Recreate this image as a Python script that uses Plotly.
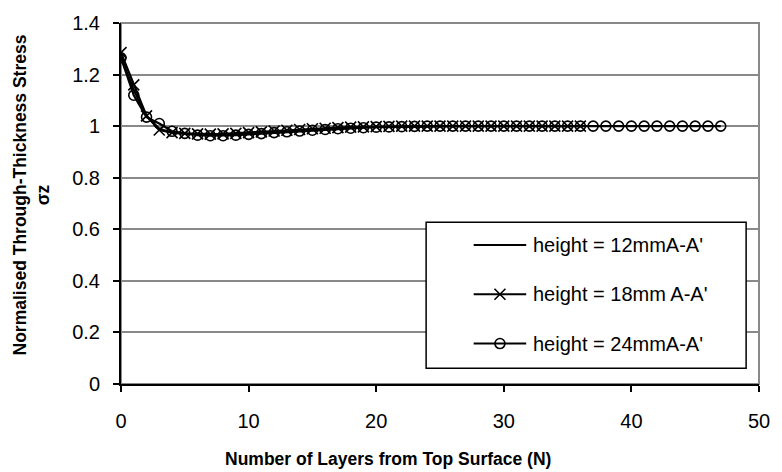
import plotly.graph_objects as go

# ---- data ----
n_12 = list(range(0, 25))
s_12 = [1.27, 1.14, 1.04, 0.99, 0.975, 0.970, 0.968, 0.967, 0.968, 0.970, 0.972, 0.975,
        0.978, 0.981, 0.984, 0.987, 0.990, 0.992, 0.994, 0.996, 0.997, 0.998, 0.999, 1.0, 1.0]

n_18 = list(range(0, 37))
s_18 = [1.285, 1.16, 1.04, 0.985, 0.975, 0.972, 0.970, 0.969, 0.970, 0.972, 0.975, 0.978,
        0.981, 0.984, 0.987, 0.990, 0.992, 0.994, 0.996, 0.997, 0.998, 0.999, 1.0, 1.0,
        1.0, 1.0, 1.0, 1.0, 1.0, 1.0, 1.0, 1.0, 1.0, 1.0, 1.0, 1.0, 1.0]

n_24 = list(range(0, 48))
s_24 = [1.265, 1.12, 1.035, 1.01, 0.98, 0.972, 0.965, 0.963, 0.963, 0.965, 0.968, 0.971,
        0.975, 0.978, 0.981, 0.984, 0.987, 0.990, 0.992, 0.994, 0.996, 0.997, 0.998, 0.999,
        1.0, 1.0, 1.0, 1.0, 1.0, 1.0, 1.0, 1.0, 1.0, 1.0, 1.0, 1.0, 1.0, 1.0, 1.0, 1.0,
        1.0, 1.0, 1.0, 1.0, 1.0, 1.0, 1.0, 1.0]

series_names = ["height = 12mmA-A'", "height = 18mm A-A'", "height = 24mmA-A'"]
y_ticks = [0, 0.2, 0.4, 0.6, 0.8, 1.0, 1.2, 1.4]
y_tick_text = ["0", "0.2", "0.4", "0.6", "0.8", "1", "1.2", "1.4"]
x_ticks = [0, 10, 20, 30, 40, 50]
x_title = "Number of Layers from Top Surface (N)"
y_title = "Normalised Through-Thickness Stress<br>σz"

FONT = "Liberation Sans, Arial, sans-serif"
BLACK = "#000000"
GRID = "#898989"
TICK_SIZE = 20
TITLE_SIZE = 17.5
LEG_SIZE = 20

X_MAX, Y_MAX = 50, 1.4

# plot area in pixels
L, R, T, B = 121, 765, 18, 384
W, H = 782, 472


def px(xp):
    return (xp - L) / (R - L)


def py(yp):
    return (B - yp) / (B - T)


fig = go.Figure()

fig.add_trace(go.Scatter(x=n_12, y=s_12, mode="lines", name=series_names[0],
                         line=dict(color=BLACK, width=2.2), showlegend=False))
fig.add_trace(go.Scatter(x=n_18, y=s_18, mode="lines+markers", name=series_names[1],
                         line=dict(color=BLACK, width=2.2),
                         marker=dict(symbol="x-thin-open", size=11, color=BLACK,
                                     line=dict(color=BLACK, width=1.6)),
                         showlegend=False))
fig.add_trace(go.Scatter(x=n_24, y=s_24, mode="lines+markers", name=series_names[2],
                         line=dict(color=BLACK, width=2.2),
                         marker=dict(symbol="circle-open", size=10, color=BLACK,
                                     line=dict(color=BLACK, width=1.6)),
                         showlegend=False))

# ---- custom legend (box on main axes, samples on a pixel-unit overlay axis) ----
leg_x0, leg_x1, leg_y0, leg_y1 = 429, 752, 220, 368
row_y = [243, 293, 343]
samp_x0, samp_x1 = 477, 530
symbols = [None, "x-thin-open", "circle-open"]
sizes = [0, 11, 10]

fig.add_shape(type="rect", xref="x", yref="y",
              x0=px(leg_x0) * X_MAX, x1=px(leg_x1) * X_MAX,
              y0=py(leg_y1) * Y_MAX, y1=py(leg_y0) * Y_MAX,
              line=dict(color=BLACK, width=1.5), fillcolor="white", layer="between")
for i, nm in enumerate(series_names):
    fig.add_trace(go.Scatter(x=[samp_x0, samp_x1], y=[row_y[i], row_y[i]], mode="lines",
                             xaxis="x2", yaxis="y2", line=dict(color=BLACK, width=2),
                             showlegend=False, hoverinfo="skip"))
    if symbols[i]:
        fig.add_trace(go.Scatter(x=[(samp_x0 + samp_x1) / 2], y=[row_y[i]], mode="markers",
                                 xaxis="x2", yaxis="y2",
                                 marker=dict(symbol=symbols[i], size=sizes[i], color=BLACK,
                                             line=dict(color=BLACK, width=1.6)),
                                 showlegend=False, hoverinfo="skip"))
    fig.add_annotation(x=px(samp_x1 + 5), y=py(row_y[i]), xref="paper", yref="paper", text=nm,
                       showarrow=False, xanchor="left", yanchor="middle",
                       font=dict(family=FONT, size=LEG_SIZE, color=BLACK))

# gray plot-area frame (top/right)
fig.add_shape(type="rect", xref="paper", yref="paper", x0=0, x1=1, y0=0, y1=1,
              line=dict(color=GRID, width=2), layer="below")

# axis titles
fig.add_annotation(x=px(W / 2), y=py(460), xref="paper", yref="paper", text=f"<b>{x_title}</b>",
                   showarrow=False, xanchor="center", yanchor="middle",
                   font=dict(family=FONT, size=TITLE_SIZE, color=BLACK))
fig.add_annotation(x=px(31), y=py(192), xref="paper", yref="paper", text=f"<b>{y_title}</b>",
                   showarrow=False, xanchor="center", yanchor="middle", textangle=-90,
                   font=dict(family=FONT, size=TITLE_SIZE, color=BLACK))

fig.update_layout(
    width=W, height=H,
    margin=dict(l=L, r=W - R, t=T, b=H - B, pad=0),
    paper_bgcolor="white", plot_bgcolor="white",
    font=dict(family=FONT, size=TICK_SIZE, color=BLACK),
    showlegend=False,
    xaxis=dict(range=[0, X_MAX], tickvals=x_ticks, showgrid=False, zeroline=False,
               showline=True, linecolor=BLACK, linewidth=2,
               ticks="outside", ticklen=6, tickwidth=1.5, tickcolor=BLACK,
               ticklabelstandoff=12, tickfont=dict(family=FONT, size=TICK_SIZE, color=BLACK)),
    yaxis=dict(range=[0, Y_MAX], tickvals=y_ticks, ticktext=y_tick_text,
               showgrid=True, gridcolor=GRID, gridwidth=1.5, zeroline=False,
               showline=True, linecolor=BLACK, linewidth=2,
               ticks="outside", ticklen=6, tickwidth=1.5, tickcolor=BLACK,
               ticklabelstandoff=9, tickfont=dict(family=FONT, size=TICK_SIZE, color=BLACK)),
    xaxis2=dict(overlaying="x", range=[L, R], visible=False, fixedrange=True),
    yaxis2=dict(overlaying="y", range=[B, T], visible=False, fixedrange=True),
)

fig.write_html(
    "out.html",
    config={"displayModeBar": False},
    post_script="document.documentElement.style.margin='0';document.body.style.margin='0';"
                "document.body.style.overflow='hidden';",
)
